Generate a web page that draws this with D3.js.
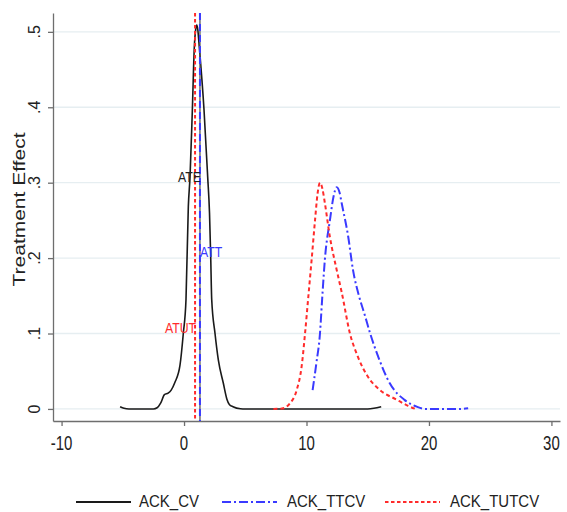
<!DOCTYPE html>
<html>
<head>
<meta charset="utf-8">
<script src="https://cdn.jsdelivr.net/npm/d3@7"></script>
<style>
  body { margin: 0; background: #fff; }
  text { font-family: "Liberation Sans", Arial, sans-serif; }
</style>
</head>
<body>
<div id="container"></div>
<script>
// density curves: [x, y]
let ackCV = [
  [-5.22, 0.003], [-4.9, 0.0008], [-4.5, 0], [-2.5, 0], [-2.2, 0.0015], [-1.9, 0.008],
  [-1.6, 0.019], [-1.3, 0.021], [-1.05, 0.025], [-0.75, 0.035], [-0.33, 0.058],
  [-0.06, 0.10], [0.16, 0.145], [0.35, 0.268], [0.49, 0.308], [0.68, 0.397],
  [0.84, 0.48], [0.95, 0.503], [1.04, 0.509], [1.13, 0.502], [1.22, 0.485],
  [1.63, 0.397], [1.93, 0.308], [2.08, 0.26], [2.18, 0.2], [2.26, 0.145],
  [2.53, 0.10], [2.8, 0.065], [3.21, 0.034], [3.5, 0.013], [3.7, 0.006],
  [4.0, 0.003], [4.6, 0.0003], [5.0, 0], [15.0, 0], [15.5, 0.0008], [16.1, 0.003]
];
let ackTTCV = [
  [10.5, 0.025], [10.8, 0.06], [11.1, 0.10], [11.29, 0.149], [11.5, 0.198],
  [11.92, 0.251], [12.2, 0.281], [12.47, 0.294], [12.7, 0.287], [12.87, 0.273],
  [13.4, 0.229], [13.8, 0.184], [14.3, 0.149], [14.75, 0.125], [15.2, 0.10],
  [15.86, 0.069], [16.8, 0.034], [18.0, 0.012], [19.0, 0.003], [19.7, 0],
  [22.5, 0], [23.2, 0.001]
];
let ackTUTCV = [
  [7.3, 0], [8.0, 0.0005], [8.65, 0.0075], [9.2, 0.025], [9.6, 0.056], [9.88, 0.10],
  [10.15, 0.149], [10.42, 0.198], [10.7, 0.251], [10.9, 0.285], [11.1, 0.30],
  [11.3, 0.292], [11.5, 0.273], [11.9, 0.229], [12.47, 0.184], [12.87, 0.155],
  [13.55, 0.10], [14.2, 0.069], [15.0, 0.043], [16.0, 0.025], [17.4, 0.012],
  [18.3, 0.004], [18.9, 0]
];

// average effects (vertical lines) and where their labels sit
let effectNames = ["ATE", "ATT", "ATUT"];
let effectValues = [1.3, 1.3, 0.9];
let effectLabelY = [0.3, 0.2, 0.1];

let xTicks = [-10, 0, 10, 20, 30];
let yTicks = [0, 0.1, 0.2, 0.3, 0.4, 0.5];
let yTickLabels = ["0", ".1", ".2", ".3", ".4", ".5"];
let legendNames = ["ACK_CV", "ACK_TTCV", "ACK_TUTCV"];

let w = 567;
let h = 512;

let black = "#1a1a1a";
let blue = "#3a3aff";
let red = "#ff2b2b";
let axisColor = "#6e6e6e";

let viz = d3.select("#container")
  .append("svg")
    .attr("width", w)
    .attr("height", h)
    .style("background-color", "white");

let xScale = d3.scaleLinear().domain([-10.7, 30.7]).range([53, 560]);
let yScale = d3.scaleLinear().domain([-0.016, 0.525]).range([421, 13]);

// text that is a bit taller than wide, like the picture
function stretchedText(parent, x, y, str, size, sy, anchor, color) {
  return parent.append("text")
    .attr("transform", "translate(" + x + "," + y + ") scale(1," + sy + ")")
    .attr("text-anchor", anchor)
    .attr("font-size", size + "px")
    .attr("fill", color)
    .text(str);
}

// gridlines
viz.append("g").selectAll("line")
  .data(yTicks)
  .enter()
  .append("line")
    .attr("x1", 54)
    .attr("x2", 560)
    .attr("y1", d => yScale(d))
    .attr("y2", d => yScale(d))
    .attr("stroke", "#e6eef1")
    .attr("stroke-width", 1.3);

// axes
let xAxis = d3.axisBottom(xScale).tickValues(xTicks).tickSize(5).tickSizeOuter(0).tickFormat("");
let xAxisGroup = viz.append("g").attr("transform", "translate(0,421)").call(xAxis);
let yAxis = d3.axisLeft(yScale).tickValues(yTicks).tickSize(5).tickSizeOuter(0).tickFormat("");
let yAxisGroup = viz.append("g").attr("transform", "translate(53,0)").call(yAxis);
viz.selectAll(".domain, .tick line").attr("stroke", axisColor).attr("stroke-width", 1.3);

let labels = viz.append("g");
xTicks.forEach(function(d) {
  stretchedText(labels, xScale(d), 450, d, 15, 1.3, "middle", "#222");
});
yTicks.forEach(function(d, i) {
  labels.append("text")
    .attr("transform", "translate(40," + yScale(d) + ") rotate(-90)")
    .attr("text-anchor", "middle")
    .attr("font-size", "16px")
    .attr("fill", "#222")
    .text(yTickLabels[i]);
});
labels.append("text")
  .attr("transform", "translate(25,209.5) rotate(-90)")
  .attr("text-anchor", "middle")
  .attr("font-size", "17px")
  .attr("fill", "#222")
  .attr("textLength", 154)
  .attr("lengthAdjust", "spacingAndGlyphs")
  .text("Treatment Effect");

// density curves
let line = d3.line()
  .x(d => xScale(d[0]))
  .y(d => yScale(d[1]))
  .curve(d3.curveMonotoneX);

let curves = viz.append("g");
curves.append("path").datum(ackCV)
  .attr("d", line).attr("fill", "none").attr("stroke", black).attr("stroke-width", 1.6);
curves.append("path").datum(ackTTCV)
  .attr("d", line).attr("fill", "none").attr("stroke", blue).attr("stroke-width", 2)
  .attr("stroke-dasharray", "9,3,2,3");
curves.append("path").datum(ackTUTCV)
  .attr("d", line).attr("fill", "none").attr("stroke", red).attr("stroke-width", 2)
  .attr("stroke-dasharray", "4,3");

// vertical lines for the average effects
let effectColors = ["#555", blue, red];
let effectDash = [null, "7,4", "3.5,2.5"];
let effectWidth = [1.3, 2, 2];
let vlines = viz.append("g");
effectValues.forEach(function(v, i) {
  vlines.append("line")
    .attr("x1", xScale(v)).attr("x2", xScale(v))
    .attr("y1", 13).attr("y2", 421)
    .attr("stroke", effectColors[i])
    .attr("stroke-width", effectWidth[i])
    .attr("stroke-dasharray", effectDash[i]);
});

// effect labels
let labelColors = ["#222", blue, red];
let labelAnchor = ["end", "start", "end"];
effectNames.forEach(function(name, i) {
  stretchedText(viz, xScale(effectValues[i]) + (labelAnchor[i] == "start" ? 0 : 1),
    yScale(effectLabelY[i]) - 1, name, 12.3, 1.25, labelAnchor[i], labelColors[i]);
});

// legend
let legendX = [76, 222, 385];
let legendTextX = [139, 287, 450];
let legendColors = [black, blue, red];
let legendDash = [null, "9,3,2,3", "3.5,2.5"];
let legend = viz.append("g");
legendNames.forEach(function(name, i) {
  legend.append("line")
    .attr("x1", legendX[i]).attr("x2", legendX[i] + 55)
    .attr("y1", 502).attr("y2", 502)
    .attr("stroke", legendColors[i])
    .attr("stroke-width", 2)
    .attr("stroke-dasharray", legendDash[i]);
  stretchedText(legend, legendTextX[i], 507, name, 15, 1.15, "start", "#222");
});
</script>
</body>
</html>
